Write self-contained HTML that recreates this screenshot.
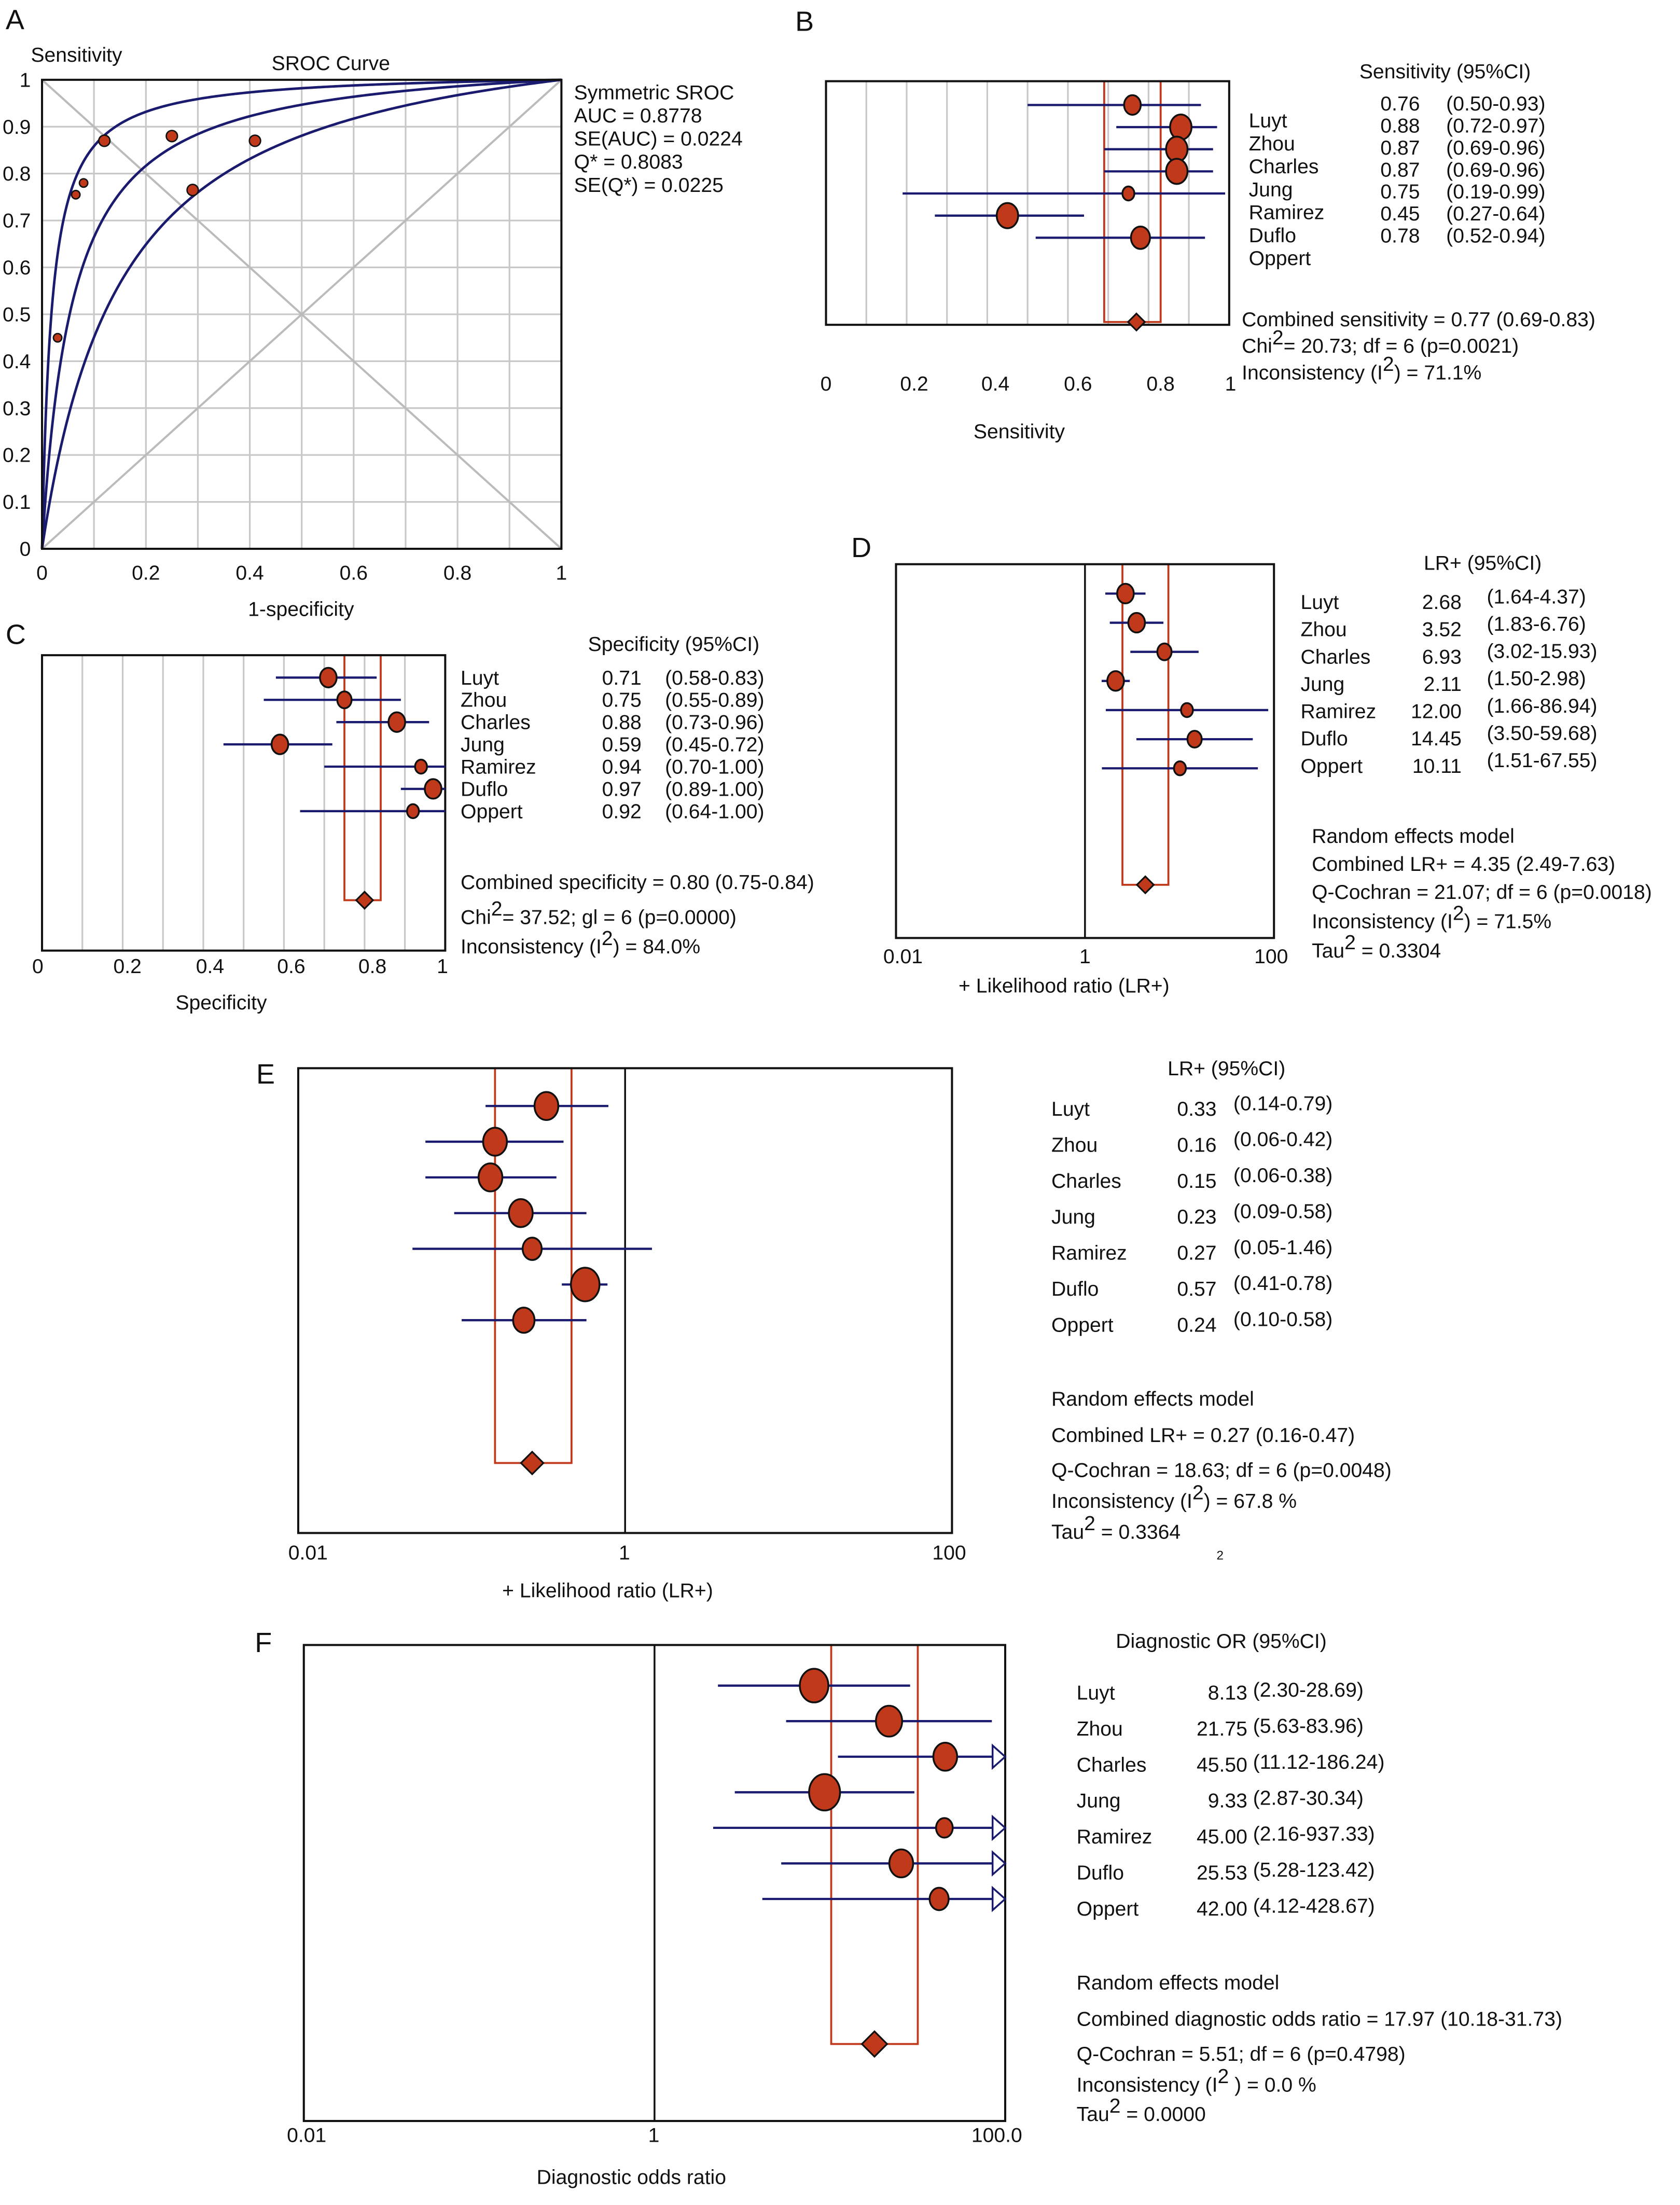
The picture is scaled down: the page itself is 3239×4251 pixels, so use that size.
<!DOCTYPE html>
<html><head><meta charset="utf-8"><style>
html,body{margin:0;padding:0;background:#fff;}
svg{display:block;font-family:"Liberation Sans",Arial,sans-serif;}
text{font-size:14.5px;fill:#111;}
</style></head><body>
<svg id="fig" width="3239" height="4251" viewBox="0 0 1200 1575" xmlns="http://www.w3.org/2000/svg">
<g id="root"></g>
</svg>
<script>
// ---------- DATA ----------
const studies = ["Luyt","Zhou","Charles","Jung","Ramirez","Duflo","Oppert"];
// Panel A SROC points
const srocFpr = [0.12,0.25,0.41,0.29,0.08,0.065,0.03];
const srocSens = [0.87,0.88,0.87,0.765,0.78,0.755,0.45];
const srocD = [4.0,2.88,2.0];
// Panel B sensitivity
const sensEst = [0.76,0.88,0.87,0.87,0.75,0.45,0.78];
const sensLo = [0.50,0.72,0.69,0.69,0.19,0.27,0.52];
const sensHi = [0.93,0.97,0.96,0.96,0.99,0.64,0.94];
const sensW = [7,9,9,9,5,9,8];
const sensPooled = [0.77,0.69,0.83];
// Panel C specificity
const specEst = [0.71,0.75,0.88,0.59,0.94,0.97,0.92];
const specLo = [0.58,0.55,0.73,0.45,0.70,0.89,0.64];
const specHi = [0.83,0.89,0.96,0.72,1.00,1.00,1.00];
const specW = [7,6,7,7,5,7,5];
const specPooled = [0.80,0.75,0.84];
// Panel D LR+
const lrpEst = [2.68,3.52,6.93,2.11,12.00,14.45,10.11];
const lrpLo = [1.64,1.83,3.02,1.50,1.66,3.50,1.51];
const lrpHi = [4.37,6.76,15.93,2.98,86.94,59.68,67.55];
const lrpW = [7,7,6,7,5,6,5];
const lrpPooled = [4.35,2.49,7.63];
// Panel E LR-
const lrnEst = [0.33,0.16,0.15,0.23,0.27,0.57,0.24];
const lrnLo = [0.14,0.06,0.06,0.09,0.05,0.41,0.10];
const lrnHi = [0.79,0.42,0.38,0.58,1.46,0.78,0.58];
const lrnW = [10,10,10,10,8,12,9];
const lrnPooled = [0.27,0.16,0.47];
// Panel F DOR
const dorEst = [8.13,21.75,45.50,9.33,45.00,25.53,42.00];
const dorLo = [2.30,5.63,11.12,2.87,2.16,5.28,4.12];
const dorHi = [28.69,83.96,186.24,30.34,937.33,123.42,428.67];
const dorW = [12,11,10,13,7,10,8];
const dorPooled = [17.97,10.18,31.73];

const NS="http://www.w3.org/2000/svg";
const root=document.getElementById('root');
function el(tag,attrs,parent){const e=document.createElementNS(NS,tag);for(const k in attrs)e.setAttribute(k,attrs[k]);(parent||root).appendChild(e);return e;}
function txt(x,y,s,name,opt){opt=opt||{};const t=el('text',{x:x,y:y});if(opt.anchor)t.setAttribute('text-anchor',opt.anchor);if(opt.size)t.style.fontSize=opt.size+'px';t.textContent=s;


return t;}
function supTxt(x,y,parts,name){const t=el('text',{x:x,y:y});parts.forEach(p=>{const ts=el('tspan',{},t);ts.textContent=p[0];if(p[1]){ts.setAttribute('dy',p[1]);ts.style.fontSize='8.5px';}if(p[2])ts.setAttribute('dy',p[2]);});


return t;}

const DARK="#1a1a6e", RED="#c0391b";

// ---------- Panel A ----------
(function(){
const x0=30,x1=401,y0=392,y1=57;
const sx=v=>x0+v*(x1-x0), sy=v=>y0-v*(y0-y1);
txt(4,21,"A","panel-a-letter",{size:20});
for(let i=1;i<10;i++){
 const g=el('line',{x1:sx(i/10),x2:sx(i/10),y1:y1,y2:y0,stroke:"#c8c8c8","stroke-width":1.2});
 
 
 const h=el('line',{x1:x0,x2:x1,y1:sy(i/10),y2:sy(i/10),stroke:"#c8c8c8","stroke-width":1.2});
 
 
}
const d1=el('line',{x1:sx(0),y1:sy(0),x2:sx(1),y2:sy(1),stroke:"#bbb","stroke-width":1.5});


const d2=el('line',{x1:sx(0),y1:sy(1),x2:sx(1),y2:sy(0),stroke:"#bbb","stroke-width":1.5});


srocD.forEach((D,k)=>{
 let pts=[];
 for(let i=0;i<=400;i++){const f=Math.pow(i/400,2.2);let s;if(f<=0)s=0;else if(f>=1)s=1;else{const l=D+Math.log(f/(1-f));s=1/(1+Math.exp(-l));}
 pts.push(sx(f).toFixed(2)+","+sy(s).toFixed(2));}
 const p=el('polyline',{points:pts.join(" "),fill:"none",stroke:DARK,"stroke-width":1.8});
 
 
});
const box=el('rect',{x:x0,y:y1,width:x1-x0,height:y0-y1,fill:"none",stroke:"#111","stroke-width":1.5});


srocFpr.forEach((f,i)=>{
 const c=el('circle',{cx:sx(f),cy:sy(srocSens[i]),r:i>3?3:4,fill:RED,stroke:"#111","stroke-width":1});
 
 
});
const yt=["0","0.1","0.2","0.3","0.4","0.5","0.6","0.7","0.8","0.9","1"];
yt.forEach((s,i)=>txt(22,sy(i/10)+5,s,"y-tick-label",{anchor:"end"}));
const xt=["0","0.2","0.4","0.6","0.8","1"];
xt.forEach((s,i)=>txt(sx(i*0.2),414,s,"x-tick-label",{anchor:"middle"}));
txt(22,44,"Sensitivity","y-axis-title");
txt(194,50,"SROC Curve","chart-title");
txt(215,440,"1-specificity","x-axis-title",{anchor:"middle"});
["Symmetric SROC","AUC = 0.8778","SE(AUC) = 0.0224","Q* = 0.8083","SE(Q*) = 0.0225"].forEach((s,i)=>txt(410,71+i*16.5,s,"sroc-stat"));
})();

// ---------- Generic forest ----------
function forest(cfg){
 const sx=cfg.log?(v=>cfg.xa+(Math.log10(v)-cfg.lmin)/(cfg.lmax-cfg.lmin)*(cfg.xb-cfg.xa)):(v=>cfg.xa+v*(cfg.xb-cfg.xa));
 if(cfg.grid){for(let i=1;i<10;i++){const g=el('line',{x1:sx(i/10),x2:sx(i/10),y1:cfg.yt,y2:cfg.yb,stroke:"#c8c8c8","stroke-width":1.2});
  
  }}
 if(cfg.refLine!==undefined){const r=el('line',{x1:sx(cfg.refLine),x2:sx(cfg.refLine),y1:cfg.yt,y2:cfg.yb,stroke:"#111","stroke-width":1.3});
  
  }
 const P=cfg.pooled;
 const rr=el('rect',{x:sx(P[1]),y:cfg.rectTop,width:sx(P[2])-sx(P[1]),height:cfg.diamY-cfg.rectTop,fill:"none",stroke:RED,"stroke-width":1.4});
 
 
 const box=el('rect',{x:cfg.xa,y:cfg.yt,width:cfg.xb-cfg.xa,height:cfg.yb-cfg.yt,fill:"none",stroke:"#111","stroke-width":1.5});
 
 
 cfg.est.forEach((v,i)=>{
  const y=cfg.rowY0+i*cfg.rowDy;
  let hi=cfg.hi[i],arrow=false;
  const maxv=cfg.log?Math.pow(10,cfg.lmax):1;
  if(hi>maxv){hi=maxv;arrow=true;}
  const xe=arrow?sx(hi)-9:sx(hi);
  const l=el('line',{x1:sx(cfg.lo[i]),x2:xe,y1:y,y2:y,stroke:DARK,"stroke-width":1.6});
  
  
  if(arrow){const a=el('polygon',{points:`${xe},${y-8} ${sx(hi)},${y} ${xe},${y+8}`,fill:"#fff",stroke:DARK,"stroke-width":1.3});
   
   }
  const w=cfg.w[i];
  const c=el('ellipse',{cx:sx(v),cy:y,rx:w*0.85,ry:w,fill:RED,stroke:"#111","stroke-width":1.3});
  
  
 });
 const dx=sx(P[0]),dy=cfg.diamY,ds=cfg.diamS;
 const d=el('polygon',{points:`${dx},${dy-ds} ${dx+ds},${dy} ${dx},${dy+ds} ${dx-ds},${dy}`,fill:RED,stroke:"#111","stroke-width":1.2});
 
 
 cfg.ticks.forEach(t=>txt(t[0],cfg.tickY,t[1],"x-tick-label",{anchor:"middle"}));
 txt(cfg.titleX,cfg.titleY,cfg.title,"x-axis-title",{anchor:"middle"});
}

// B
txt(568,22,"B","panel-b-letter",{size:20});
forest({id:"sensitivity",xa:590,xb:878,yt:58,yb:232,grid:true,pooled:sensPooled,rectTop:58,diamY:230,diamS:6,
 est:sensEst,lo:sensLo,hi:sensHi,w:sensW,rowY0:75,rowDy:15.8,
 ticks:[[590,"0"],[653,"0.2"],[711,"0.4"],[770,"0.6"],[829,"0.8"],[879,"1"]],tickY:279,title:"Sensitivity",titleX:728,titleY:313});
txt(971,56,"Sensitivity (95%CI)","table-header");
studies.forEach((s,i)=>txt(892,91+i*16.4,s,"study-name"));
sensEst.forEach((v,i)=>txt(986,79+i*15.7,v.toFixed(2),"sensitivity-value"));
sensLo.forEach((v,i)=>txt(1033,79+i*15.7,"("+v.toFixed(2)+"-"+sensHi[i].toFixed(2)+")","sensitivity-ci"));
txt(887,233,"Combined sensitivity = 0.77 (0.69-0.83)","combined-stat");
supTxt(887,252,[["Chi"],["2","","-6"],["= 20.73; df = 6 (p=0.0021)","","6"]],"heterogeneity-stat");
supTxt(887,271,[["Inconsistency (I"],["2","","-6"],[") = 71.1%","","6"]],"inconsistency-stat");

// C
txt(4,460,"C","panel-c-letter",{size:20});
forest({id:"specificity",xa:30,xb:318,yt:468,yb:679,grid:true,pooled:specPooled,rectTop:468,diamY:643,diamS:6,
 est:specEst,lo:specLo,hi:specHi,w:specW,rowY0:484,rowDy:15.9,
 ticks:[[27,"0"],[91,"0.2"],[150,"0.4"],[208,"0.6"],[266,"0.8"],[316,"1"]],tickY:695,title:"Specificity",titleX:158,titleY:721});
txt(420,465,"Specificity (95%CI)","table-header");
studies.forEach((s,i)=>txt(329,489+i*15.9,s,"study-name"));
specEst.forEach((v,i)=>txt(430,489+i*15.9,v.toFixed(2),"specificity-value"));
specLo.forEach((v,i)=>txt(475,489+i*15.9,"("+v.toFixed(2)+"-"+specHi[i].toFixed(2)+")","specificity-ci"));
txt(329,635,"Combined specificity = 0.80 (0.75-0.84)","combined-stat");
supTxt(329,660,[["Chi"],["2","","-6"],["= 37.52; gl = 6 (p=0.0000)","","6"]],"heterogeneity-stat");
supTxt(329,681,[["Inconsistency (I"],["2","","-6"],[") = 84.0%","","6"]],"inconsistency-stat");

// D
txt(608,398,"D","panel-d-letter",{size:20});
forest({id:"positive-lr",xa:640,xb:910,yt:403,yb:670,log:true,lmin:-2,lmax:2,refLine:1,pooled:lrpPooled,rectTop:403,diamY:632,diamS:6,
 est:lrpEst,lo:lrpLo,hi:lrpHi,w:lrpW,rowY0:424,rowDy:20.8,
 ticks:[[645,"0.01"],[775,"1"],[908,"100"]],tickY:688,title:"+ Likelihood ratio (LR+)",titleX:760,titleY:709});
txt(1017,407,"LR+ (95%CI)","table-header");
studies.forEach((s,i)=>txt(929,435+i*19.5,s,"study-name"));
lrpEst.forEach((v,i)=>txt(1044,435+i*19.5,v.toFixed(2),"lr-value",{anchor:"end"}));
lrpLo.forEach((v,i)=>txt(1062,431+i*19.5,"("+v.toFixed(2)+"-"+lrpHi[i].toFixed(2)+")","lr-ci"));
txt(937,602,"Random effects model","model-label");
txt(937,622,"Combined LR+ = 4.35 (2.49-7.63)","combined-stat");
txt(937,642,"Q-Cochran = 21.07; df = 6 (p=0.0018)","heterogeneity-stat");
supTxt(937,663,[["Inconsistency (I"],["2","","-6"],[") = 71.5%","","6"]],"inconsistency-stat");
supTxt(937,684,[["Tau"],["2","","-6"],[" = 0.3304","","6"]],"tau-stat");

// E
txt(183,774,"E","panel-e-letter",{size:20});
forest({id:"negative-lr",xa:213,xb:680,yt:763,yb:1095,log:true,lmin:-2,lmax:2,refLine:1,pooled:lrnPooled,rectTop:763,diamY:1045,diamS:8,
 est:lrnEst,lo:lrnLo,hi:lrnHi,w:lrnW,rowY0:790,rowDy:25.5,
 ticks:[[220,"0.01"],[446,"1"],[678,"100"]],tickY:1114,title:"+ Likelihood ratio (LR+)",titleX:434,titleY:1141});
txt(834,768,"LR+ (95%CI)","table-header");
studies.forEach((s,i)=>txt(751,797+i*25.7,s,"study-name"));
lrnEst.forEach((v,i)=>txt(869,797+i*25.7,v.toFixed(2),"lr-value",{anchor:"end"}));
lrnLo.forEach((v,i)=>txt(881,793+i*25.7,"("+v.toFixed(2)+"-"+lrnHi[i].toFixed(2)+")","lr-ci"));
txt(751,1004,"Random effects model","model-label");
txt(751,1030,"Combined LR+ = 0.27 (0.16-0.47)","combined-stat");
txt(751,1055,"Q-Cochran = 18.63; df = 6 (p=0.0048)","heterogeneity-stat");
supTxt(751,1077,[["Inconsistency (I"],["2","","-6"],[") = 67.8 %","","6"]],"inconsistency-stat");
supTxt(751,1099,[["Tau"],["2","","-6"],[" = 0.3364","","6"]],"tau-stat");
txt(869,1114,"2","stray-superscript",{size:9});

// F
txt(182,1180,"F","panel-f-letter",{size:20});
forest({id:"diagnostic-or",xa:217,xb:718,yt:1175,yb:1515,log:true,lmin:-2,lmax:2,refLine:1,pooled:dorPooled,rectTop:1175,diamY:1460,diamS:9,
 est:dorEst,lo:dorLo,hi:dorHi,w:dorW,rowY0:1204,rowDy:25.4,
 ticks:[[219,"0.01"],[467,"1"],[712,"100.0"]],tickY:1530,title:"Diagnostic odds ratio",titleX:451,titleY:1560});
txt(797,1177,"Diagnostic OR (95%CI)","table-header");
studies.forEach((s,i)=>txt(769,1214+i*25.7,s,"study-name"));
dorEst.forEach((v,i)=>txt(891,1214+i*25.7,v.toFixed(2),"dor-value",{anchor:"end"}));
dorLo.forEach((v,i)=>txt(895,1212+i*25.7,"("+v.toFixed(2)+"-"+dorHi[i].toFixed(2)+")","dor-ci"));
txt(769,1421,"Random effects model","model-label");
txt(769,1447,"Combined diagnostic odds ratio = 17.97 (10.18-31.73)","combined-stat");
txt(769,1472,"Q-Cochran = 5.51; df = 6 (p=0.4798)","heterogeneity-stat");
supTxt(769,1494,[["Inconsistency (I"],["2","","-6"],[" ) = 0.0 %","","6"]],"inconsistency-stat");
supTxt(769,1515,[["Tau"],["2","","-6"],[" = 0.0000","","6"]],"tau-stat");
</script>
</body></html>
